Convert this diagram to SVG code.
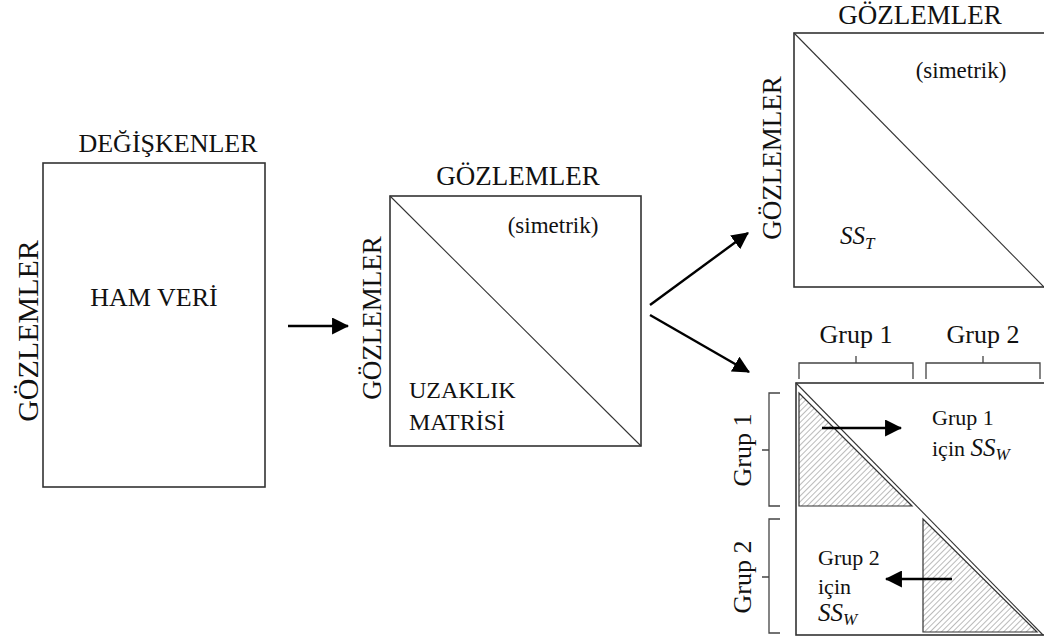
<svg xmlns="http://www.w3.org/2000/svg" width="1044" height="638" viewBox="0 0 1044 638">
  <style>
    .box { fill: #fff; stroke: #333; stroke-width: 1.6; }
    .diag { stroke: #333; stroke-width: 1.1; fill: none; }
    .br { stroke: #444; stroke-width: 1.3; fill: none; }
    .t { font-family: "Liberation Serif", "Times New Roman", serif; fill: #111; }
    .xl { font-size: 27px; }
    .lg { font-size: 26px; }
    .md { font-size: 22px; }
    .sm { font-size: 23px; }
    .it { font-style: italic; }
    .ss { font-size: 25px; font-style: italic; }
    .sub { font-size: 17px; }
    .conn { stroke: #000; stroke-width: 2.4; fill: none; }
    .hatch { fill: url(#hatch); stroke: #333; stroke-width: 1.2; }
  </style>
  <defs>
    <marker id="head" viewBox="0 0 16 16" refX="15" refY="8" markerWidth="17" markerHeight="17" orient="auto" markerUnits="userSpaceOnUse">
      <path d="M0,0 L16,8 L0,16 Z" fill="#000"/>
    </marker>
    <pattern id="hatch" patternUnits="userSpaceOnUse" width="4" height="4" patternTransform="rotate(45)">
      <rect width="4" height="4" fill="#fff"/>
      <line x1="0" y1="0" x2="0" y2="4" stroke="#777" stroke-width="1"/>
    </pattern>
  </defs>

  <rect width="1044" height="638" fill="#fff"/>

  <!-- raw data matrix -->
  <g id="ham-veri">
    <rect class="box" x="43" y="163" width="222" height="324"/>
    <text class="t lg" x="168" y="152" text-anchor="middle">DEĞİŞKENLER</text>
    <text class="t lg" x="154" y="306" text-anchor="middle">HAM VERİ</text>
    <text class="t" font-size="30" transform="translate(38,331) rotate(-90)" text-anchor="middle">GÖZLEMLER</text>
  </g>

  <!-- distance matrix -->
  <g id="uzaklik-matrisi">
    <rect class="box" x="390" y="196" width="251" height="250"/>
    <line class="diag" x1="390" y1="196" x2="641" y2="446"/>
    <text class="t xl" x="518" y="185" text-anchor="middle">GÖZLEMLER</text>
    <text class="t sm" x="553" y="233" text-anchor="middle">(simetrik)</text>
    <text class="t" font-size="24" x="409" y="398">UZAKLIK</text>
    <text class="t" font-size="24" x="409" y="430">MATRİSİ</text>
    <text class="t xl" transform="translate(381,318) rotate(-90)" text-anchor="middle">GÖZLEMLER</text>
  </g>

  <!-- total sum of squares matrix -->
  <g id="ss-total">
    <rect class="box" x="794" y="33" width="252" height="254"/>
    <line class="diag" x1="794" y1="33" x2="1044" y2="287"/>
    <text class="t xl" x="920" y="24" text-anchor="middle">GÖZLEMLER</text>
    <text class="t sm" x="961" y="78" text-anchor="middle">(simetrik)</text>
    <text class="t ss" x="840" y="244">SS<tspan class="sub" dy="5">T</tspan></text>
    <text class="t xl" transform="translate(781,158) rotate(-90)" text-anchor="middle">GÖZLEMLER</text>
  </g>

  <!-- within-group sum of squares matrix -->
  <g id="ss-within">
    <rect class="box" x="796" y="383" width="250" height="252"/>
    <line class="diag" x1="796" y1="383" x2="1043" y2="635"/>
    <polygon class="hatch" points="799,393 799,506 912,506"/>
    <polygon class="hatch" points="923,519 923,632 1037,632"/>

    <!-- column brackets -->
    <path class="br" d="M799,379 V363 H913 V379 M856,363 V356"/>
    <path class="br" d="M926,379 V363 H1040 V379 M983,363 V356"/>
    <text class="t lg" x="856" y="343" text-anchor="middle">Grup 1</text>
    <text class="t lg" x="983" y="343" text-anchor="middle">Grup 2</text>

    <!-- row brackets -->
    <path class="br" d="M780,393 H769 V506 H780 M769,450 H762"/>
    <path class="br" d="M780,519 H769 V633 H780 M769,577 H762"/>
    <text class="t lg" transform="translate(751,450) rotate(-90)" text-anchor="middle">Grup 1</text>
    <text class="t lg" transform="translate(751,577) rotate(-90)" text-anchor="middle">Grup 2</text>

    <text class="t md" x="932" y="425">Grup 1</text>
    <text class="t md" x="932" y="456">için <tspan class="ss">SS</tspan><tspan class="it sub" dy="4">W</tspan></text>
    <text class="t md" x="818" y="565">Grup 2</text>
    <text class="t md" x="818" y="594">için</text>
    <text class="t ss" x="818" y="621">SS<tspan class="sub" dy="4">W</tspan></text>
  </g>

  <!-- connectors -->
  <g id="connectors">
    <line class="conn" x1="288" y1="326" x2="348" y2="326" marker-end="url(#head)"/>
    <line class="conn" x1="650" y1="305" x2="748" y2="233" marker-end="url(#head)"/>
    <line class="conn" x1="650" y1="315" x2="749" y2="372" marker-end="url(#head)"/>
    <line class="conn" x1="822" y1="428" x2="901" y2="428" marker-end="url(#head)"/>
    <line class="conn" x1="952" y1="579" x2="886" y2="579" marker-end="url(#head)"/>
  </g>
</svg>
